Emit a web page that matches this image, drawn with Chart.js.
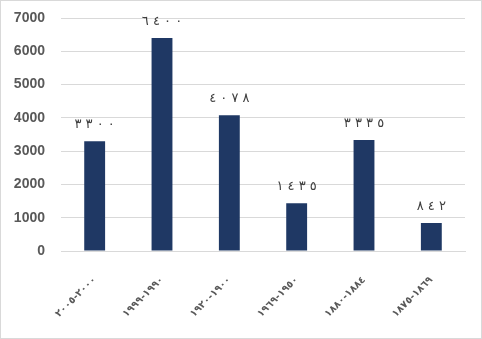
<!DOCTYPE html>
<html>
<head>
<meta charset="utf-8">
<script src="https://cdn.jsdelivr.net/npm/chart.js@4"></script>
<style>
  body { margin: 0; background: #fff; }
  #box { width: 480px; height: 337px; border: 1px solid #d9d9d9; }
</style>
</head>
<body>
<div id="box"><canvas id="myChart" width="480" height="337"></canvas></div>
<script>
// categories in logical order (rendered right-to-left inside each label)
var periods = ['٢٠٠٠-٢٠٠٥', '١٩٩٠-١٩٩٩', '١٩٠٠-١٩٢٠', '١٩٥٠-١٩٦٩', '١٨٨٤-١٨٨٠', '١٨٦٩-١٨٧٥'];
var counts = [3300, 6400, 4078, 1435, 3335, 842];
var yTicks = [0, 1000, 2000, 3000, 4000, 5000, 6000, 7000];

// eastern arabic digits, spaced out and kept left-to-right
function arabicDigits(n) {
    var d = '٠١٢٣٤٥٦٧٨٩';
    var s = String(n).replace(/[0-9]/g, function (c) { return d[c]; });
    return '\u202D' + s.split('').join(' ') + '\u202C';
}

var valueLabels = {
    id: 'valueLabels',
    afterDatasetsDraw: function (chart) {
        var ctx = chart.ctx;
        var meta = chart.getDatasetMeta(0);
        ctx.save();
        ctx.font = '13px "DejaVu Sans"';
        ctx.fillStyle = '#404040';
        ctx.textAlign = 'center';
        ctx.textBaseline = 'bottom';
        meta.data.forEach(function (bar, i) {
            ctx.fillText(arabicDigits(counts[i]), bar.x, bar.y - 10);
        });
        ctx.restore();
    }
};

var ctx = document.getElementById('myChart').getContext('2d');
var myChart = new Chart(ctx, {
    type: 'bar',
    data: {
        labels: periods,
        datasets: [{
            data: counts,
            backgroundColor: '#1f3864',
            barPercentage: 0.31,
            categoryPercentage: 1
        }]
    },
    options: {
        responsive: false,
        animation: false,
        layout: { padding: { left: 12, right: 16, top: 17, bottom: 0 } },
        plugins: {
            legend: { display: false },
            tooltip: { enabled: false }
        },
        scales: {
            x: {
                grid: { display: false },
                border: { color: '#d9d9d9' },
                afterFit: function (s) {
                    s.paddingLeft = 0;
                    s.paddingRight = 0;
                    s.height = 87;
                },
                ticks: {
                    minRotation: 45,
                    maxRotation: 45,
                    padding: 15,
                    color: '#595959',
                    font: { family: 'DejaVu Sans', size: 10, weight: 'bold' }
                }
            },
            y: {
                min: 0,
                max: 7000,
                afterBuildTicks: function (axis) {
                    axis.ticks = yTicks.map(function (v) { return { value: v }; });
                },
                afterFit: function (s) {
                    s.width = 48;
                    s.paddingTop = 0;
                    s.paddingBottom = 0;
                },
                grid: { color: '#d9d9d9', drawTicks: false },
                border: { display: false },
                ticks: {
                    padding: 16,
                    color: '#595959',
                    font: { family: 'Liberation Sans', size: 14, weight: 'bold' },
                    callback: function (v) { return String(v); }
                }
            }
        }
    },
    plugins: [valueLabels]
});
</script>
</body>
</html>
